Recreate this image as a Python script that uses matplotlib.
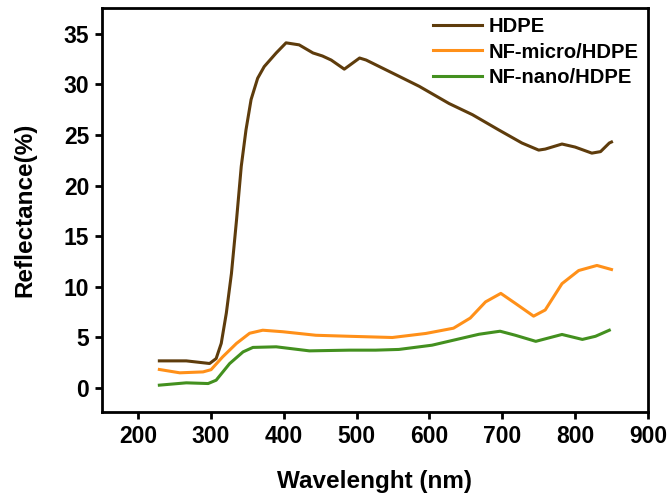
import matplotlib
matplotlib.use('Agg')
import matplotlib.pyplot as plt

plt.rcParams.update({
    'font.family': ['Liberation Sans', 'DejaVu Sans'],
    'font.weight': 'bold',
})

# values
hdpe_nm = [229, 266, 298, 307, 314, 321, 328, 335, 341.5, 348, 355, 364, 373, 389.5,
           403, 421, 440, 453, 465, 483, 504, 513, 558, 586, 627, 659, 695, 727,
           750, 759, 782, 800, 823, 835, 847, 850]
hdpe_r = [2.67, 2.67, 2.41, 2.9, 4.4, 7.4, 11.3, 16.6, 21.9, 25.5, 28.5, 30.6, 31.75, 33.1,
          34.1, 33.9, 33.1, 32.8, 32.4, 31.5, 32.6, 32.4, 30.8, 29.8, 28.1, 27.0, 25.5, 24.2,
          23.5, 23.6, 24.1, 23.8, 23.2, 23.35, 24.2, 24.3]

micro_nm = [229, 257, 289, 300, 316, 335, 353, 371, 398.5, 444, 490, 549, 595, 633,
            656, 677, 698, 718, 743, 759, 782, 805, 830, 850]
micro_r = [1.82, 1.49, 1.58, 1.8, 3.07, 4.4, 5.4, 5.7, 5.55, 5.2, 5.1, 4.98, 5.38, 5.9,
           6.9, 8.5, 9.34, 8.35, 7.09, 7.7, 10.3, 11.6, 12.1, 11.7]

nano_nm = [229, 266, 296, 307, 325.5, 344, 357.5, 389.5, 435, 490, 526, 558, 603.5, 650,
           668, 691, 697, 718, 746, 782, 810, 828, 847]
nano_r = [0.27, 0.5, 0.43, 0.76, 2.4, 3.56, 4.0, 4.06, 3.66, 3.73, 3.73, 3.8, 4.22, 5.0,
          5.3, 5.54, 5.6, 5.2, 4.6, 5.28, 4.79, 5.1, 5.7]

labels = ['HDPE', 'NF-micro/HDPE', 'NF-nano/HDPE']
colors = ['#5e3c0c', '#ff9019', '#43901f']

fig = plt.figure(figsize=(6.7, 4.96), dpi=100)
ax = fig.add_axes([0.152, 0.169, 0.815, 0.814])

for xs, ys, c, lab in zip([hdpe_nm, micro_nm, nano_nm], [hdpe_r, micro_r, nano_r],
                          colors, labels):
    ax.plot(xs, ys, color=c, lw=2.2, label=lab, solid_joinstyle='round')

ax.set_xlim(150, 900)
ax.set_ylim(-2.4, 37.5)
ax.set_xticks(range(200, 901, 100))
ax.set_yticks(range(0, 36, 5))

for s in ax.spines.values():
    s.set_linewidth(2)
ax.tick_params(direction='out', length=5, width=2, labelsize=16.5, pad=4)
for t in ax.get_xticklabels() + ax.get_yticklabels():
    t.set_fontweight('bold')

ax.set_xlabel('Wavelenght (nm)', fontsize=17.5, fontweight='bold', labelpad=16)
ax.set_ylabel('Reflectance(%)', fontsize=17.5, fontweight='bold', labelpad=20)

ax.legend(loc='upper right', frameon=False, handlelength=2.4,
          handletextpad=0.35, labelspacing=0.3, borderaxespad=0.2, borderpad=0.25,
          prop={'weight': 'bold', 'size': 14.5})

fig.savefig('out.png', dpi=100)
